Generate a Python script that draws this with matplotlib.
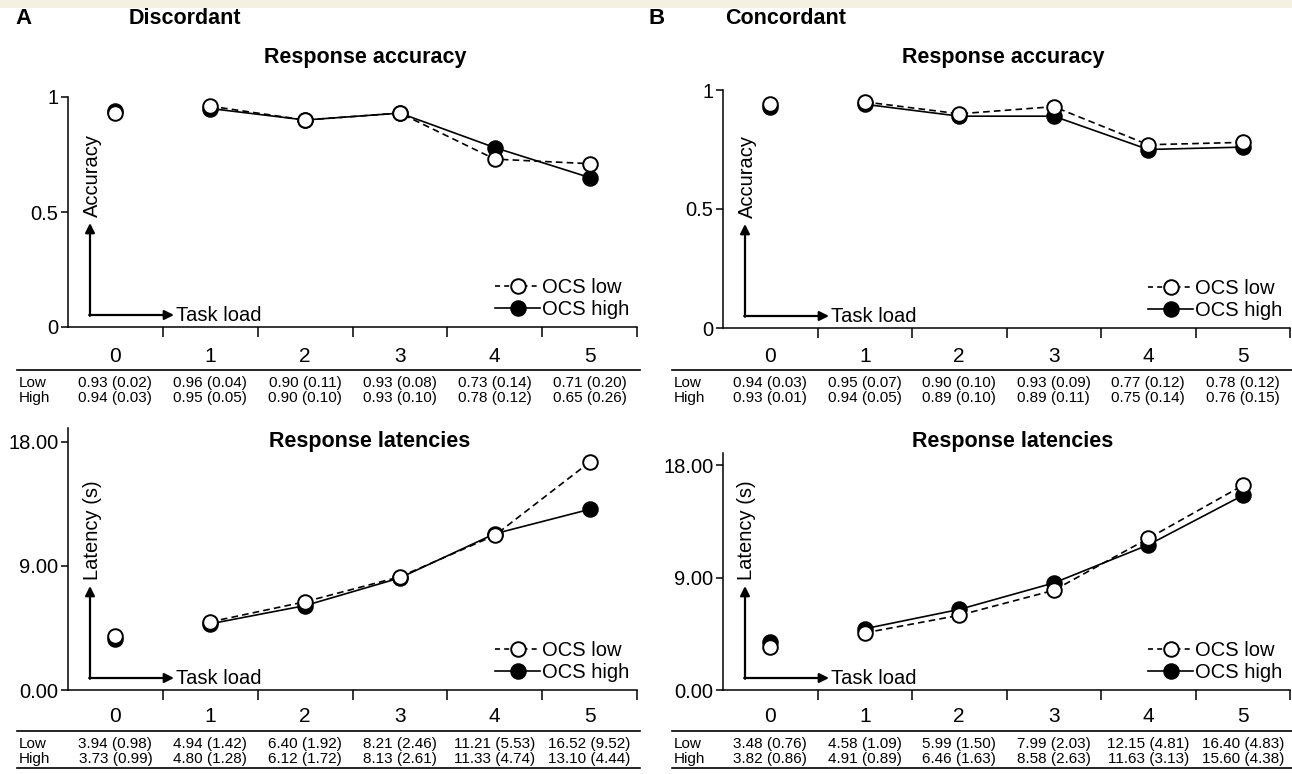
import matplotlib

matplotlib.use("Agg")

import matplotlib.pyplot as plt
import matplotlib.transforms as mtransforms
from matplotlib.lines import Line2D

plt.rcParams['font.family'] = ['Liberation Sans', 'DejaVu Sans']

# Данные из таблиц под графиками: среднее и (SD)
task_load = [0, 1, 2, 3, 4, 5]

disc_acc_low = [0.93, 0.96, 0.90, 0.93, 0.73, 0.71]
disc_acc_low_sd = [0.02, 0.04, 0.11, 0.08, 0.14, 0.20]
disc_acc_high = [0.94, 0.95, 0.90, 0.93, 0.78, 0.65]
disc_acc_high_sd = [0.03, 0.05, 0.10, 0.10, 0.12, 0.26]

disc_lat_low = [3.94, 4.94, 6.40, 8.21, 11.21, 16.52]
disc_lat_low_sd = [0.98, 1.42, 1.92, 2.46, 5.53, 9.52]
disc_lat_high = [3.73, 4.80, 6.12, 8.13, 11.33, 13.10]
disc_lat_high_sd = [0.99, 1.28, 1.72, 2.61, 4.74, 4.44]

conc_acc_low = [0.94, 0.95, 0.90, 0.93, 0.77, 0.78]
conc_acc_low_sd = [0.03, 0.07, 0.10, 0.09, 0.12, 0.12]
conc_acc_high = [0.93, 0.94, 0.89, 0.89, 0.75, 0.76]
conc_acc_high_sd = [0.01, 0.05, 0.10, 0.11, 0.14, 0.15]

conc_lat_low = [3.48, 4.58, 5.99, 7.99, 12.15, 16.40]
conc_lat_low_sd = [0.76, 1.09, 1.50, 2.03, 4.81, 4.83]
conc_lat_high = [3.82, 4.91, 6.46, 8.58, 11.63, 15.60]
conc_lat_high_sd = [0.86, 0.89, 1.63, 2.63, 3.13, 4.38]

W = 1292
H = 774


def fx(px):
    return px / W


def fy(py):
    return 1 - py / H


def make_axes(fig, left, top, right, bottom):
    return fig.add_axes([fx(left), fy(bottom), (right - left) / W,
                         (bottom - top) / H])


def draw_series(ax, low, high):
    ms = 10.5
    # OCS high сначала, чтобы пустые кружки были поверх
    ax.plot(task_load[1:], high[1:], color='black', lw=1.2, ls='-',
            marker='o', ms=ms, mfc='black', mec='black', mew=1.4,
            clip_on=False, zorder=3)
    ax.plot(task_load[:1], high[:1], color='black', lw=0, marker='o',
            ms=ms, mfc='black', mec='black', mew=1.4, clip_on=False,
            zorder=3)
    ax.plot(task_load[1:], low[1:], color='black', lw=1.2, ls='--',
            dashes=(4, 2.5), marker='o', ms=ms, mfc='white', mec='black',
            mew=1.4, clip_on=False, zorder=4)
    ax.plot(task_load[:1], low[:1], color='black', lw=0, marker='o',
            ms=ms, mfc='white', mec='black', mew=1.4, clip_on=False,
            zorder=4)


def style_axes(ax, ymax, yticks, ylabels):
    ax.set_xlim(-0.5, 5.5)
    ax.set_ylim(0, ymax)
    for side in ['top', 'right']:
        ax.spines[side].set_visible(False)
    for side in ['left', 'bottom']:
        ax.spines[side].set_linewidth(1.1)
    ax.set_xticks([0.5, 1.5, 2.5, 3.5, 4.5, 5.5])
    ax.set_xticklabels([])
    ax.set_yticks(yticks)
    ax.set_yticklabels(ylabels)
    ax.tick_params(axis='x', direction='out', length=7, width=1.1)
    ax.tick_params(axis='y', direction='out', length=5, width=1.1,
                   labelsize=14.5, pad=2)
    ax.patch.set_alpha(0)


def draw_inset_arrows(fig, corner_x, corner_y, label):
    tip_up = (corner_x, corner_y - 92)
    tip_right = (corner_x + 84, corner_y)
    arrow = dict(arrowstyle='-|>', lw=1.6, color='black',
                 mutation_scale=14, shrinkA=0, shrinkB=0)
    fig.add_artist(matplotlib.patches.FancyArrowPatch(
        (fx(corner_x), fy(corner_y + 0.8)), (fx(tip_up[0]), fy(tip_up[1])),
        transform=fig.transFigure, **arrow))
    fig.add_artist(matplotlib.patches.FancyArrowPatch(
        (fx(corner_x - 0.8), fy(corner_y)),
        (fx(tip_right[0]), fy(tip_right[1])),
        transform=fig.transFigure, **arrow))
    fig.text(fx(tip_right[0] + 2), fy(corner_y), 'Task load',
             fontsize=14.5, ha='left', va='center')
    fig.text(fx(corner_x + 2), fy(tip_up[1] - 6), label, fontsize=14.5,
             rotation=90, ha='center', va='bottom')


def draw_legend(fig, ax, right, bottom):
    handles = [
        Line2D([], [], color='black', lw=1.2, ls='--', dashes=(3, 2.5),
               marker='o', ms=10.5, mfc='white', mec='black', mew=1.4),
        Line2D([], [], color='black', lw=1.2, ls='-', marker='o', ms=10.5,
               mfc='black', mec='black', mew=1.4),
    ]
    ax.legend(handles, ['OCS low', 'OCS high'], loc='lower right',
              bbox_to_anchor=(fx(right), fy(bottom)),
              bbox_transform=fig.transFigure, frameon=False, fontsize=14.5,
              handlelength=2.2, handletextpad=0.1, labelspacing=0.15,
              borderpad=0, borderaxespad=0)


def draw_table(fig, ax, low, low_sd, high, high_sd, header_y, decimals,
               line_x0, line_x1, bottom_line):
    trans = mtransforms.blended_transform_factory(ax.transData,
                                                  fig.transFigure)
    for i in range(len(task_load)):
        ax.text(task_load[i], fy(header_y), str(task_load[i]),
                transform=trans, fontsize=15, ha='center', va='center')
        low_text = f"{low[i]:.2f} ({low_sd[i]:.2f})"
        high_text = f"{high[i]:.2f} ({high_sd[i]:.2f})"
        ax.text(task_load[i], fy(header_y + 27), low_text, transform=trans,
                fontsize=11, ha='center', va='center')
        ax.text(task_load[i], fy(header_y + 42), high_text, transform=trans,
                fontsize=11, ha='center', va='center')
    fig.text(fx(line_x0 + 2), fy(header_y + 27), 'Low', fontsize=11,
             ha='left', va='center')
    fig.text(fx(line_x0 + 2), fy(header_y + 42), 'High', fontsize=11,
             ha='left', va='center')
    fig.add_artist(Line2D([fx(line_x0), fx(line_x1)],
                          [fy(header_y + 14), fy(header_y + 14)],
                          transform=fig.transFigure, color='black', lw=1.2))
    if bottom_line:
        fig.add_artist(Line2D([fx(line_x0), fx(line_x1)],
                              [fy(header_y + 51), fy(header_y + 51)],
                              transform=fig.transFigure, color='black',
                              lw=1.2))


def main():
    fig = plt.figure(figsize=(W / 100, H / 100), dpi=100)
    fig.patch.set_facecolor('white')

    # Бежевая полоса сверху
    fig.add_artist(matplotlib.patches.Rectangle(
        (0, fy(8)), 1, 8 / H, transform=fig.transFigure,
        facecolor='#f4f0e2', edgecolor='none'))

    fig.text(fx(15), fy(19), 'A', fontsize=16, fontweight='bold',
             ha='left', va='center')
    fig.text(fx(129), fy(19), 'Discordant', fontsize=15.5,
             fontweight='bold', ha='left', va='center')
    fig.text(fx(648), fy(19), 'B', fontsize=16, fontweight='bold',
             ha='left', va='center')
    fig.text(fx(725), fy(19), 'Concordant', fontsize=15.5,
             fontweight='bold', ha='left', va='center')

    panels = [
        # (left, top, right, bottom), ymax, данные, подписи
        ((68, 97, 637, 327), 1.0, disc_acc_low, disc_acc_low_sd,
         disc_acc_high, disc_acc_high_sd, 'Response accuracy', 'Accuracy',
         365, 58, 356, False),
        ((68, 428, 637, 690), 19.0, disc_lat_low, disc_lat_low_sd,
         disc_lat_high, disc_lat_high_sd, 'Response latencies',
         'Latency (s)', 370, 441, 717, True),
        ((723, 90, 1290, 328), 1.0, conc_acc_low, conc_acc_low_sd,
         conc_acc_high, conc_acc_high_sd, 'Response accuracy', 'Accuracy',
         1003, 58, 356, False),
        ((723, 453, 1290, 690), 19.0, conc_lat_low, conc_lat_low_sd,
         conc_lat_high, conc_lat_high_sd, 'Response latencies',
         'Latency (s)', 1013, 441, 717, True),
    ]

    for (box, ymax, low, low_sd, high, high_sd, title, ylabel, title_x,
         title_y, header_y, bottom_line) in panels:
        left, top, right, bottom = box
        ax = make_axes(fig, left, top, right, bottom)
        if ymax == 1.0:
            style_axes(ax, ymax, [0, 0.5, 1], ['0', '0.5', '1'])
        else:
            style_axes(ax, ymax, [0, 9, 18], ['0.00', '9.00', '18.00'])
        draw_series(ax, low, high)
        fig.text(fx(title_x), fy(title_y), title, fontsize=15.5,
                 fontweight='bold', ha='center', va='center')
        draw_inset_arrows(fig, left + 22, bottom - 12, ylabel)
        draw_legend(fig, ax, right - 8, bottom - 8)
        draw_table(fig, ax, low, low_sd, high, high_sd, header_y, 2,
                   left - 51, right + 3, bottom_line)

    fig.savefig("out.png", dpi=100)
    plt.close(fig)


if __name__ == "__main__":
    main()
